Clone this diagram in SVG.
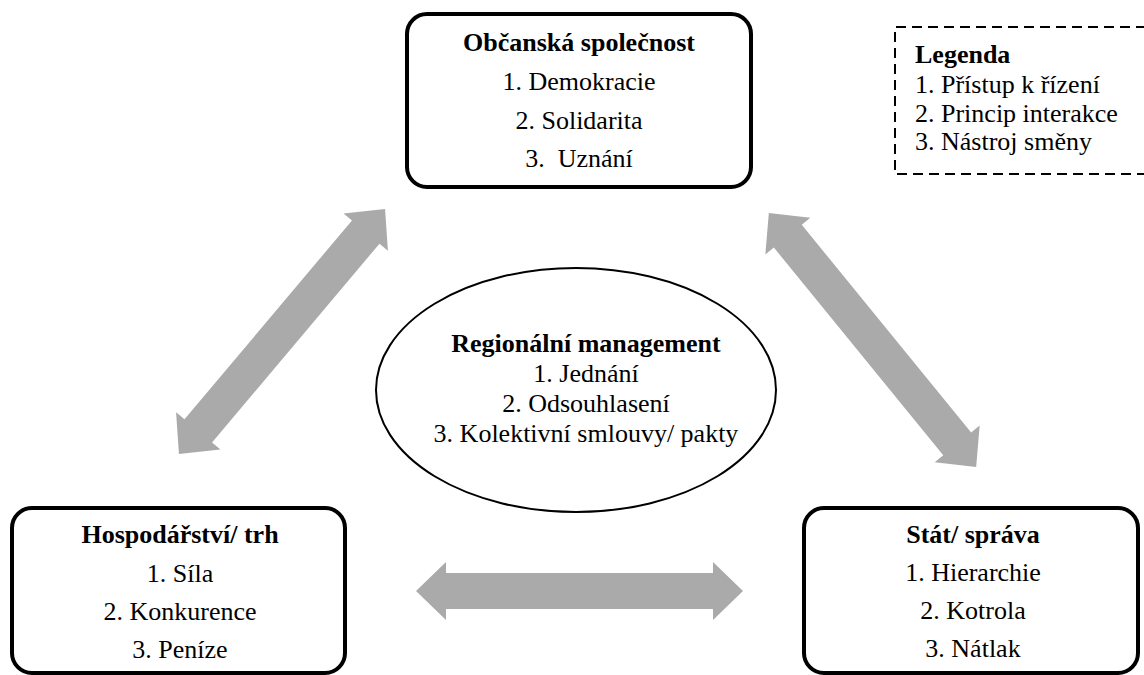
<svg xmlns="http://www.w3.org/2000/svg" width="1144" height="675" viewBox="0 0 1144 675">
<style>
text{font-family:"Liberation Serif","Times New Roman",serif;font-size:26px;fill:#000;text-anchor:middle}
.b{font-weight:bold}
.l{text-anchor:start}
.box{fill:#fff;stroke:#000;stroke-width:4}
.arr{fill:#aaaaaa}
</style>
<rect width="1144" height="675" fill="#fff"/>
<g id="connectors">
<path class="arr" transform="translate(579.5,591)" d="M-163.5,0 L-133.5,-29 L-133.5,-18 L133.5,-18 L133.5,-29 L163.5,0 L133.5,29 L133.5,18 L-133.5,18 L-133.5,29 Z"/>
<path class="arr" transform="translate(282,331.5) rotate(-49.9)" d="M-160,0 L-130,-29 L-130,-18 L130,-18 L130,-29 L160,0 L130,29 L130,18 L-130,18 L-130,29 Z"/>
<path class="arr" transform="translate(872.5,340) rotate(50.8)" d="M-164,0 L-134,-29 L-134,-18 L134,-18 L134,-29 L164,0 L134,29 L134,18 L-134,18 L-134,29 Z"/>
</g>
<g id="obcanska">
<rect class="box" x="407" y="14" width="344" height="173" rx="20"/>
<text class="b" x="579" y="51">Občanská společnost</text>
<text x="579" y="90">1. Demokracie</text>
<text x="579" y="129">2. Solidarita</text>
<text x="579" y="167">3.&#160; Uznání</text>
</g>
<g id="legenda">
<path d="M1146,27 H895 V174 H1146" fill="none" stroke="#000" stroke-width="2" stroke-dasharray="10,6"/>
<text class="b l" x="915" y="63">Legenda</text>
<text class="l" x="915" y="93">1. Přístup k řízení</text>
<text class="l" x="915" y="122">2. Princip interakce</text>
<text class="l" x="915" y="150">3. Nástroj směny</text>
</g>
<g id="regionalni">
<ellipse cx="576" cy="390" rx="200" ry="122" fill="#fff" stroke="#000" stroke-width="2"/>
<text class="b" x="586" y="352">Regionální management</text>
<text x="586" y="382">1. Jednání</text>
<text x="586" y="412">2. Odsouhlasení</text>
<text x="586" y="442">3. Kolektivní smlouvy/ pakty</text>
</g>
<g id="hospodarstvi">
<rect class="box" x="12" y="508" width="333" height="165" rx="20"/>
<text class="b" x="180" y="543">Hospodářství/ trh</text>
<text x="180" y="582">1. Síla</text>
<text x="180" y="620">2. Konkurence</text>
<text x="180" y="658">3. Peníze</text>
</g>
<g id="stat">
<rect class="box" x="804" y="508" width="334" height="165" rx="20"/>
<text class="b" x="973" y="543">Stát/ správa</text>
<text x="973" y="581">1. Hierarchie</text>
<text x="973" y="619">2. Kotrola</text>
<text x="973" y="657">3. Nátlak</text>
</g>
</svg>
